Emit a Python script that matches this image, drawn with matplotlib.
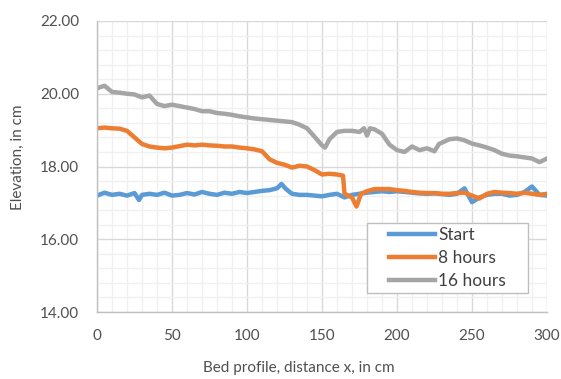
import matplotlib
matplotlib.use("Agg")
import matplotlib.pyplot as plt
from matplotlib.patches import Rectangle
from matplotlib.ticker import MultipleLocator, FormatStrFormatter

# === DATOS (cm) ===
x_start = [0, 5, 10, 15, 20, 25, 28, 30, 35, 40, 45, 50, 55, 60, 65, 70, 75, 80, 85, 90,
           95, 100, 105, 110, 115, 120, 123, 126, 130, 135, 140, 145, 150, 155, 160, 165,
           170, 175, 180, 185, 190, 195, 200, 205, 210, 215, 220, 225, 230, 235, 240, 245,
           250, 255, 260, 265, 270, 275, 280, 285, 290, 295, 300]
start = [17.20, 17.28, 17.22, 17.25, 17.20, 17.27, 17.08, 17.22, 17.25, 17.22, 17.28, 17.20,
         17.22, 17.27, 17.23, 17.30, 17.25, 17.22, 17.28, 17.25, 17.30, 17.27, 17.30, 17.33,
         17.35, 17.40, 17.52, 17.38, 17.25, 17.22, 17.22, 17.20, 17.18, 17.22, 17.25, 17.15,
         17.22, 17.25, 17.28, 17.30, 17.32, 17.30, 17.32, 17.30, 17.28, 17.26, 17.25, 17.26,
         17.24, 17.22, 17.25, 17.40, 17.02, 17.15, 17.22, 17.25, 17.25, 17.20, 17.22, 17.30,
         17.45, 17.22, 17.20]

x_8h = [0, 5, 10, 15, 20, 25, 30, 35, 40, 45, 50, 55, 60, 65, 70, 75, 80, 85, 90, 95, 100,
        105, 110, 115, 120, 125, 130, 135, 140, 145, 150, 155, 160, 164, 165, 170, 173, 176,
        180, 185, 190, 195, 200, 205, 210, 215, 220, 225, 230, 235, 240, 245, 250, 255, 260,
        265, 270, 275, 280, 285, 290, 295, 300]
hours_8 = [19.05, 19.07, 19.05, 19.04, 18.98, 18.80, 18.62, 18.55, 18.52, 18.50, 18.52, 18.56,
           18.60, 18.58, 18.60, 18.58, 18.57, 18.55, 18.55, 18.52, 18.50, 18.47, 18.42, 18.20,
           18.10, 18.05, 17.97, 18.02, 18.00, 17.90, 17.78, 17.80, 17.78, 17.75, 17.25, 17.15,
           16.90, 17.25, 17.32, 17.38, 17.38, 17.38, 17.35, 17.33, 17.30, 17.28, 17.27, 17.27,
           17.25, 17.25, 17.27, 17.28, 17.20, 17.12, 17.25, 17.30, 17.28, 17.27, 17.25, 17.28,
           17.25, 17.22, 17.25]

x_16h = [0, 5, 10, 15, 20, 25, 30, 35, 40, 45, 50, 55, 60, 65, 70, 75, 80, 85, 90, 95, 100,
         105, 110, 115, 120, 125, 130, 135, 140, 145, 150, 152, 155, 160, 165, 170, 175, 178,
         180, 182, 185, 190, 195, 200, 205, 210, 215, 220, 225, 228, 235, 240, 245, 250, 255,
         260, 265, 270, 275, 280, 285, 290, 295, 300]
hours_16 = [20.15, 20.22, 20.05, 20.03, 20.00, 19.98, 19.90, 19.95, 19.72, 19.66, 19.70, 19.66,
            19.62, 19.58, 19.52, 19.52, 19.47, 19.45, 19.42, 19.38, 19.35, 19.32, 19.30, 19.28,
            19.26, 19.24, 19.22, 19.15, 19.05, 18.82, 18.58, 18.52, 18.75, 18.95, 18.98, 18.98,
            18.95, 19.05, 18.85, 19.05, 19.02, 18.90, 18.60, 18.45, 18.40, 18.55, 18.45, 18.50,
            18.42, 18.62, 18.75, 18.77, 18.72, 18.63, 18.58, 18.52, 18.45, 18.35, 18.30, 18.28,
            18.25, 18.22, 18.12, 18.22]

plt.rcParams['font.family'] = ['Lato', 'DejaVu Sans']

fig = plt.figure(figsize=(5.61, 3.79), dpi=100)
ax = fig.add_axes([97 / 561, 1 - 312 / 379, 450 / 561, 291 / 379])

ax.plot(x_start, start, color="#5B9BD5", lw=3.2, label="Start")
ax.plot(x_8h, hours_8, color="#ED7D31", lw=3.2, label="8 hours")
ax.plot(x_16h, hours_16, color="#A5A5A5", lw=3.2, label="16 hours")

ax.set_xlim(0, 300)
ax.set_ylim(14, 22)
ax.xaxis.set_major_locator(MultipleLocator(50))
ax.xaxis.set_minor_locator(MultipleLocator(10))
ax.yaxis.set_major_locator(MultipleLocator(2))
ax.yaxis.set_minor_locator(MultipleLocator(0.4))
ax.yaxis.set_major_formatter(FormatStrFormatter("%.2f"))

ax.grid(which="major", color="#D9D9D9", lw=1.0)
ax.grid(which="minor", color="#F0F0F0", lw=1.0)
ax.set_axisbelow(True)
for s in ["top", "right"]:
    ax.spines[s].set_visible(False)
for s in ["left", "bottom"]:
    ax.spines[s].set_color("#BFBFBF")
    ax.spines[s].set_linewidth(1.0)

ax.tick_params(which="both", length=0, labelsize=11, colors="#505050")
ax.tick_params(axis="x", pad=12)
ax.tick_params(axis="y", pad=13)
ax.set_xlabel("Bed profile, distance x, in cm", fontsize=11, color="#505050")
ax.set_ylabel("Elevation, in cm", fontsize=11, color="#505050")
ax.xaxis.set_label_coords(0.449, -0.168)
ax.yaxis.set_label_coords(-0.16, 0.533)

# cuadro de la leyenda (estilo Excel)
ax.add_patch(Rectangle((0.6, 0.0653), 0.358, 0.2405, transform=ax.transAxes,
                       facecolor="white", edgecolor="#BFBFBF", lw=1.0, zorder=5))
leg = ax.legend(loc="center", bbox_to_anchor=(0.779, 0.1856), frameon=False,
                fontsize=12.5, handlelength=2.6, handletextpad=0.2,
                labelspacing=0.42, borderpad=0)
leg.set_zorder(6)
for t in leg.get_texts():
    t.set_color("#404040")

fig.savefig("out.png", dpi=100)
